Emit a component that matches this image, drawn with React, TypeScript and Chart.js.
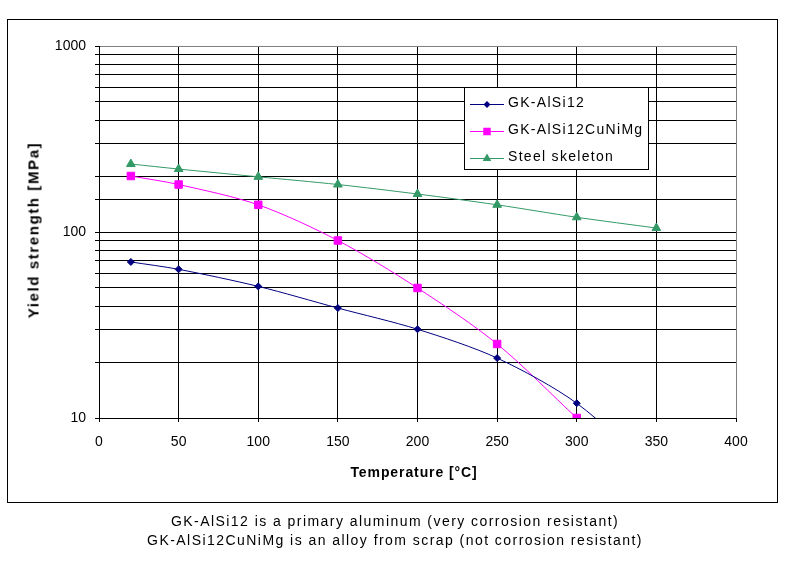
import React, { useEffect, useRef } from "react";
import { Chart, registerables } from "chart.js";

Chart.register(...registerables);

// ---- data ----
const temperatures = [20, 50, 100, 150, 200, 250, 300, 350];
const alsi12 = [69, 63, 51, 39, 30, 21, 12, 5];
const alsi12CuNiMg = [200, 180, 140, 90, 50, 25, 10, null];
const steelSkeleton = [232, 218, 198, 180, 160, 140, 120, 105];
const seriesNames = ["GK-AlSi12", "GK-AlSi12CuNiMg", "Steel skeleton"];
const xTicks = [0, 50, 100, 150, 200, 250, 300, 350, 400];
const yLabelled = [10, 100, 1000];
const captionLines = [
  "GK-AlSi12 is a primary aluminum (very corrosion resistant)",
  "GK-AlSi12CuNiMg is an alloy from scrap (not corrosion resistant)",
];

const FONT = '"Liberation Sans", Arial, sans-serif';

const toPoints = (vals: (number | null)[]) =>
  temperatures
    .map((t, i) => ({ x: t, y: vals[i] }))
    .filter((p) => p.y !== null) as { x: number; y: number }[];

function drawMarker(ctx: CanvasRenderingContext2D, style: string, r: number, x: number, y: number) {
  ctx.beginPath();
  if (style === "rectRot") {
    ctx.moveTo(x, y - r);
    ctx.lineTo(x + r, y);
    ctx.lineTo(x, y + r);
    ctx.lineTo(x - r, y);
  } else if (style === "rect") {
    const s = Math.SQRT1_2 * r;
    ctx.rect(x - s, y - s, 2 * s, 2 * s);
  } else if (style === "triangle") {
    const a = (2 * Math.PI) / 3;
    ctx.moveTo(x, y - r);
    ctx.lineTo(x + Math.sin(a) * r, y - Math.cos(a) * r);
    ctx.lineTo(x + Math.sin(2 * a) * r, y - Math.cos(2 * a) * r);
  }
  ctx.closePath();
  ctx.fill();
}

const legendPlugin = {
  id: "boxLegend",
  afterDraw(chart: any) {
    const ctx = chart.ctx;
    const bx = 464.5, by = 87.5, bw = 184, bh = 82;
    ctx.save();
    ctx.fillStyle = "#ffffff";
    ctx.fillRect(bx, by, bw, bh);
    ctx.strokeStyle = "#000000";
    ctx.lineWidth = 1;
    ctx.strokeRect(bx, by, bw, bh);
    const rows = [104, 131, 158];
    chart.data.datasets.forEach((ds: any, i: number) => {
      const y = rows[i];
      ctx.strokeStyle = ds.borderColor;
      ctx.lineWidth = 1;
      ctx.beginPath();
      ctx.moveTo(470, y + 0.5);
      ctx.lineTo(504, y + 0.5);
      ctx.stroke();
      ctx.fillStyle = ds.pointBackgroundColor;
      drawMarker(ctx, ds.pointStyle, ds.pointRadius, 487, y + 0.5);
      ctx.fillStyle = "#000000";
      ctx.font = `14px ${FONT}`;
      (ctx as any).letterSpacing = "1.3px";
      ctx.textBaseline = "alphabetic";
      ctx.textAlign = "left";
      ctx.fillText(ds.label, 508, y + 3);
      (ctx as any).letterSpacing = "0px";
    });
    ctx.restore();
  },
};

export default function App() {
  const ref = useRef<HTMLCanvasElement>(null);

  useEffect(() => {
    if (!ref.current) return;
    const chart = new Chart(ref.current, {
      type: "line",
      data: {
        datasets: [
          {
            label: seriesNames[0],
            data: toPoints(alsi12),
            borderColor: "#000080",
            backgroundColor: "#000080",
            pointBackgroundColor: "#000080",
            pointBorderColor: "#000080",
            pointStyle: "rectRot",
            pointRadius: 3.5,
            borderWidth: 1,
            tension: 0.3,
          },
          {
            label: seriesNames[1],
            data: toPoints(alsi12CuNiMg),
            borderColor: "#FF00FF",
            backgroundColor: "#FF00FF",
            pointBackgroundColor: "#FF00FF",
            pointBorderColor: "#FF00FF",
            pointStyle: "rect",
            pointRadius: 5.3,
            borderWidth: 1,
            tension: 0.3,
          },
          {
            label: seriesNames[2],
            data: toPoints(steelSkeleton),
            borderColor: "#339966",
            backgroundColor: "#339966",
            pointBackgroundColor: "#339966",
            pointBorderColor: "#339966",
            pointStyle: "triangle",
            pointRadius: 5,
            borderWidth: 1,
            tension: 0.3,
          },
        ] as any,
      },
      options: {
        animation: false,
        responsive: false,
        devicePixelRatio: 1,
        layout: { padding: { left: 0, top: 46, right: 49, bottom: 0 } },
        plugins: { legend: { display: false }, tooltip: { enabled: false } },
        scales: {
          x: {
            type: "linear",
            min: 0,
            max: 400,
            afterFit: (s: any) => {
              s.height = 168;
            },
            afterBuildTicks: (s: any) => {
              s.ticks = xTicks.map((v) => ({ value: v }));
            },
            ticks: {
              color: "#000",
              font: { family: FONT, size: 14 },
              padding: 12,
              maxRotation: 0,
              autoSkip: false,
            },
            grid: {
              color: (c: any) => (c.tick && c.tick.value === 400 ? "#808080" : "#000000"),
              tickColor: "#000000",
              tickLength: 4,
              lineWidth: 1,
            },
            border: { color: "#000000", width: 1 },
          },
          y: {
            type: "logarithmic",
            min: 10,
            max: 1000,
            afterFit: (s: any) => {
              s.width = 99;
            },
            ticks: {
              color: "#000",
              font: { family: FONT, size: 14 },
              padding: 9,
              autoSkip: false,
              callback: (v: any) => {
                const n = Number(v);
                return yLabelled.some((l) => Math.abs(l - n) < 1e-6) ? String(Math.round(n)) : "";
              },
            },
            grid: {
              color: (c: any) => (c.tick && Math.abs(c.tick.value - 1000) < 1e-6 ? "#808080" : "#000000"),
              tickColor: "#000000",
              tickLength: 4,
              lineWidth: 1,
            },
            border: { color: "#000000", width: 1 },
          },
        },
      } as any,
      plugins: [legendPlugin],
    });
    return () => chart.destroy();
  }, []);

  const textBase: React.CSSProperties = {
    position: "absolute",
    whiteSpace: "nowrap",
    fontFamily: FONT,
    color: "#000",
    lineHeight: "1",
  };

  return (
    <div style={{ position: "absolute", left: 0, top: 0, width: 785, height: 586, background: "#fff", overflow: "hidden" }}>
      <div
        style={{
          position: "absolute",
          left: 7,
          top: 19,
          width: 771,
          height: 484,
          boxSizing: "border-box",
          border: "1px solid #000",
        }}
      />
      <canvas ref={ref} width={785} height={586} style={{ position: "absolute", left: 0, top: 0, width: 785, height: 586 }} />
      <div
        style={{
          ...textBase,
          left: 33,
          top: 230,
          fontSize: 15,
          fontWeight: "bold",
          letterSpacing: "1.6px",
          transform: "translate(-50%, -50%) rotate(-90deg)",
        }}
      >
        Yield strength [MPa]
      </div>
      <div
        style={{
          ...textBase,
          left: 414,
          top: 472,
          fontSize: 14,
          fontWeight: "bold",
          letterSpacing: "0.9px",
          transform: "translate(-50%, -50%)",
        }}
      >
        Temperature [°C]
      </div>
      {captionLines.map((line, i) => (
        <div
          key={i}
          style={{
            ...textBase,
            left: 395,
            top: 521 + i * 19,
            fontSize: 14,
            letterSpacing: "1.45px",
            transform: "translate(-50%, -50%)",
          }}
        >
          {line}
        </div>
      ))}
    </div>
  );
}
